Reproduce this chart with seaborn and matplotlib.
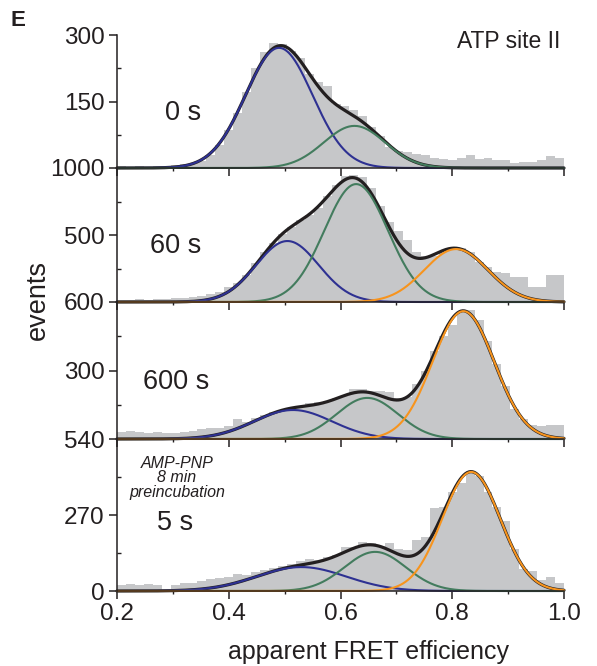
import numpy as np
import pandas as pd
import matplotlib
matplotlib.use('Agg')
import matplotlib.pyplot as plt
import seaborn as sns

# ----------------------------
# Data
# ----------------------------
bin_width = 0.016
bin_edges = list(0.2 + bin_width * np.arange(51))
bin_centers = [e + bin_width / 2 for e in bin_edges[:-1]]

counts_0s = [4, 3, 4, 3, 5, 5, 7, 8, 10, 16,
             30, 52, 85, 125, 172, 225, 262, 282, 280, 265,
             248, 212, 194, 185, 145, 140, 131, 118, 93, 72,
             48, 38, 36, 32, 30, 22, 20, 18, 22, 30,
             20, 22, 18, 18, 12, 13, 14, 18, 28, 22]
counts_60s = [15, 18, 20, 18, 22, 25, 28, 32, 38, 45,
              58, 75, 110, 140, 205, 290, 370, 440, 505, 560,
              615, 650, 700, 790, 870, 940, 950, 930, 850, 720,
              600, 530, 460, 370, 340, 345, 370, 395, 400, 370,
              300, 260, 225, 220, 190, 185, 115, 110, 200, 200]
counts_600s = [30, 35, 30, 28, 30, 26, 28, 32, 36, 44,
               48, 50, 55, 88, 75, 90, 105, 118, 128, 135,
               140, 158, 162, 165, 178, 190, 218, 220, 212, 210,
               205, 178, 185, 240, 300, 385, 450, 500, 550, 565,
               520, 430, 330, 230, 130, 88, 60, 55, 62, 60]
counts_5s = [20, 25, 22, 24, 20, -6, 22, 28, 30, 36,
             42, 45, 50, 62, 58, 66, 75, 80, 88, 95,
             105, 112, 110, 122, 128, 156, 158, 174, 172, 160,
             170, 148, 146, 182, 192, 295, 300, 350, 385, 420,
             410, 350, 298, 250, 150, 78, 70, 40, 50, 30]

# Gaussian fit components (amplitude, centre, width) per panel
amp_blue = [271, 455, 127, 85]
mu_blue = [0.49, 0.505, 0.515, 0.53]
sd_blue = [0.06, 0.056, 0.07, 0.08]
amp_green = [95, 880, 180, 139]
mu_green = [0.625, 0.628, 0.648, 0.662]
sd_green = [0.055, 0.057, 0.055, 0.055]
amp_orange = [0, 395, 560, 423]
mu_orange = [0.8, 0.807, 0.82, 0.834]
sd_orange = [0.05, 0.057, 0.055, 0.052]

panel_labels = ['0 s', '60 s', '600 s', '5 s']
y_top = [300, 1000, 600, 540]
y_mid = [150, 500, 300, 270]
x_ticks = [0.2, 0.4, 0.6, 0.8, 1.0]

all_counts = [counts_0s, counts_60s, counts_600s, counts_5s]

# ----------------------------
# Style
# ----------------------------
sns.set_theme(style='ticks')
plt.rcParams['font.family'] = ['Liberation Sans', 'DejaVu Sans']

gray = '#c6c7c9'
black = '#231f20'
blue = '#2e3192'
green = '#437c5e'
orange = '#f7941d'

W, H = 597, 666
fig = plt.figure(figsize=(W / 100, H / 100), dpi=100)

# panel pixel extents (top, bottom)
panel_px = [(35, 168), (168, 302), (302, 439), (439, 591)]
left_px, right_px = 117, 564

xs = np.linspace(0.2, 1.0, 500)


def gauss(x, a, m, s):
    return a * np.exp(-(x - m) ** 2 / (2 * s ** 2))


for i, (top, bot) in enumerate(panel_px):
    ax = fig.add_axes([left_px / W, 1 - bot / H,
                       (right_px - left_px) / W, (bot - top) / H])
    ax.set_facecolor('none')

    hist_df = pd.DataFrame({'fret': bin_centers, 'n': all_counts[i]})
    sns.histplot(data=hist_df, x='fret', weights='n', bins=bin_edges,
                 element='step', fill=True, color=gray, alpha=1,
                 linewidth=0, ax=ax)

    comps = [(gauss(xs, amp_blue[i], mu_blue[i], sd_blue[i]), blue),
             (gauss(xs, amp_green[i], mu_green[i], sd_green[i]), green)]
    if amp_orange[i] > 0:
        comps.append((gauss(xs, amp_orange[i], mu_orange[i], sd_orange[i]), orange))
    total = sum(c for c, _ in comps)

    sns.lineplot(x=xs, y=total, color=black, linewidth=2.3, ax=ax)
    for c, col in comps:
        sns.lineplot(x=xs, y=c, color=col, linewidth=1.5, ax=ax)
    for ln in ax.lines:
        ln.set_clip_on(False)

    ax.set_xlim(0.2, 1.0)
    ax.set_ylim(0, y_top[i])
    ax.set_xlabel('')
    ax.set_ylabel('')
    sns.despine(ax=ax)
    for sp in ['left', 'bottom']:
        ax.spines[sp].set_linewidth(1.1)
        ax.spines[sp].set_color(black)

    yt = [y_mid[i], y_top[i]]
    if i == 3:
        yt = [0] + yt
    ax.set_yticks(yt)
    ax.set_yticklabels([str(v) for v in yt])
    ax.set_yticks([y_mid[i] / 2, y_mid[i] * 1.5], minor=True)
    ax.set_xticks(x_ticks)
    ax.set_xticks([0.3, 0.5, 0.7, 0.9], minor=True)

    ax.tick_params(which='major', direction='out', length=6, width=1.1,
                   color=black, labelsize=17.5, labelcolor=black, pad=3)
    ax.tick_params(axis='y', which='minor', direction='in', length=3,
                   width=1.0, color=black)
    ax.tick_params(axis='x', which='minor', direction='out', length=2.5,
                   width=1.0, color=black)
    if i < 3:
        ax.tick_params(axis='x', labelbottom=False)
    else:
        ax.set_xticklabels(['0.2', '0.4', '0.6', '0.8', '1.0'])

# ----------------------------
# Text
# ----------------------------
label_pos = [(183, 113), (176, 246), (176, 382), (175, 523)]
for lab, (px, py) in zip(panel_labels, label_pos):
    fig.text(px / W, 1 - py / H, lab, fontsize=19.5, color=black,
             ha='center', va='center')

fig.text(177 / W, 1 - 478 / H, 'AMP-PNP\n8 min\npreincubation',
         fontsize=11.5, style='italic', color=black, ha='center',
         va='center', linespacing=0.95)
fig.text(509 / W, 1 - 41 / H, 'ATP site II', fontsize=16.5,
         color=black, ha='center', va='center')
fig.text(18 / W, 1 - 20 / H, 'E', fontsize=16, fontweight='bold',
         color=black, ha='center', va='center')
fig.text(38 / W, 1 - 300 / H, 'events', fontsize=19.5, rotation=90,
         color=black, ha='center', va='center')
fig.text(369 / W, 1 - 652 / H, 'apparent FRET efficiency', fontsize=18,
         color=black, ha='center', va='center')

plt.savefig('out.png', dpi=100)
